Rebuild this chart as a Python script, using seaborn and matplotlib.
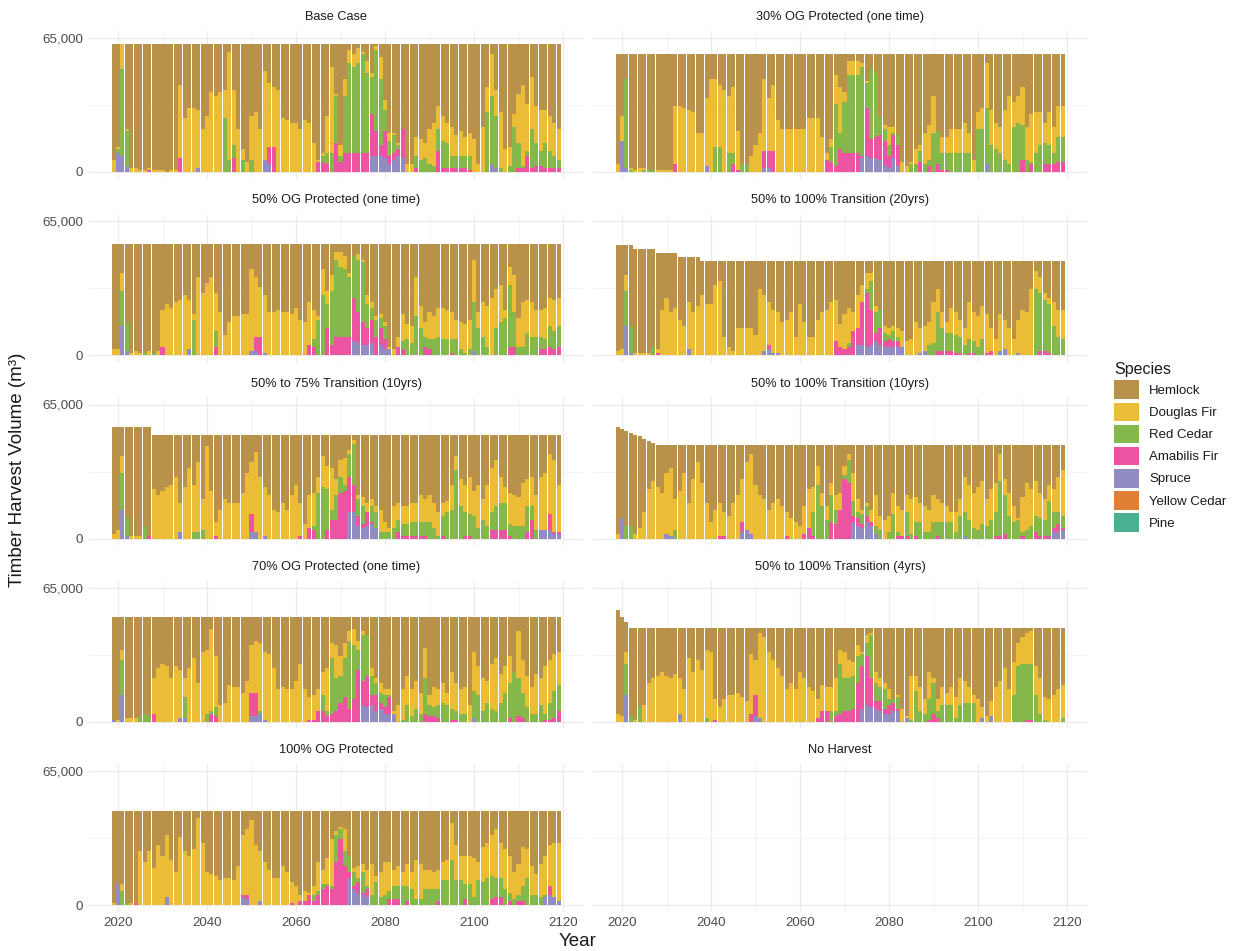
import numpy as np
import pandas as pd
import matplotlib
matplotlib.use("Agg")
import matplotlib.pyplot as plt
from matplotlib.patches import Patch
from matplotlib.ticker import FixedLocator, FixedFormatter
import seaborn as sns

YEARS = list(range(2019, 2120))
SPECIES = ["Hemlock", "Douglas Fir", "Red Cedar", "Amabilis Fir", "Spruce", "Yellow Cedar", "Pine"]
DARK2 = ["#A6761D", "#E6AB02", "#66A61E", "#E7298A", "#7570B3", "#D95F02", "#1B9E77"]

# Each scenario: cumulative upper edge of the stacked layers (thousand m3),
# bottom to top: spruce, +amabilis fir, +red cedar, +douglas fir; then total harvest.

# Base Case
BASE_SP = [0,9,8,3,0,0,0,0,0,0, 0,0,0,0,0,0,0,0,0,2, 0,0,0,0,0,0,0,0,0,0, 0,0,0,0,6,4,0,0,0,0,
           0,0,0,0,0,0,0,0,0,0, 0,0,0,0,0,0,0,0,8,8, 8,7,4,6,8,7,0,0,0,0, 0,0,0,0,0,0,0,0,0,0,
           0,0,0,0,0,4,2,0,0,0, 0,0,0,0,0,0,0,0,0,0, 0]
BASE_AM = [0,9,8,3,0,0,0,0,1,0, 0,0,0,0,0,7,0,0,0,2, 0,0,0,0,0,0,0,7,0,0, 0,0,0,0,6,12,12,0,0,0,
           0,0,0,0,0,0,5,5,4,0, 14,5,9,9,9,9,9,9,28,20, 13,20,8,9,11,21,0,0,2,0, 0,0,0,10,2,2,2,2,2,2,
           1,0,0,0,0,4,2,0,0,0, 0,2,2,8,2,3,3,2,2,2, 2]
BASE_RC = [0,11,50,20,0,0,0,0,1,0, 0,0,0,0,0,7,0,0,0,2, 0,0,0,0,0,26,6,13,0,6, 0,6,0,0,6,12,12,0,0,0,
           0,0,0,0,0,0,5,8,9,9, 37,8,37,53,51,53,57,48,46,59, 45,30,15,18,13,21,0,0,8,6, 7,4,3,21,15,14,8,8,8,8,
           8,0,0,0,29,37,27,2,0,3, 22,14,3,10,21,14,10,14,10,8, 6]
BASE_DF = [6,12,62,21,2,2,1,1,2,1, 1,1,0,1,1,42,26,31,31,30, 21,27,39,37,39,40,58,40,21,11, 5,27,29,21,49,43,41,40,26,25,
           24,24,21,25,24,14,6,9,27,51, 38,13,45,59,57,60,58,54,48,61, 56,35,19,19,14,21,4,4,17,16, 14,21,24,32,27,24,22,18,20,17,
           19,16,4,22,41,57,40,29,11,12, 28,38,42,33,46,32,30,30,27,24, 21]
BASE_TOTAL = [62] * 101

# 30% OG Protected (one time)
OG30_SP = [0,15,2,0,0,0,0,0,0,0, 0,0,0,0,0,0,0,0,0,0, 3,0,0,0,0,0,0,0,0,0, 0,0,0,2,2,0,0,0,0,0,
           0,0,0,0,0,0,0,0,0,0, 0,0,0,0,0,7,8,7,7,6, 3,2,7,3,0,0,0,0,0,0, 0,0,0,0,0,0,0,0,0,0,
           0,0,0,4,0,0,0,0,0,0, 0,0,0,0,0,0,0,0,0,0, 0]
OG30_AM = [0,15,2,0,0,0,0,0,0,0, 0,0,0,4,0,0,0,0,0,0, 3,0,0,0,0,0,4,1,0,0, 0,0,0,10,10,10,0,0,0,0,
           0,0,0,0,0,0,0,6,5,3, 11,9,9,9,9,8,31,16,17,18, 15,8,18,13,0,0,0,0,5,0, 3,0,4,1,1,0,0,0,0,0,
           0,0,0,4,0,0,0,0,0,0, 0,6,0,4,0,0,4,4,4,5, 5]
OG30_RC = [0,15,45,1,0,0,1,1,1,0, 0,0,0,4,0,0,0,0,0,0, 3,0,12,12,0,9,9,1,4,4, 0,0,0,10,10,10,0,0,0,0,
           0,0,0,0,0,0,0,6,12,33, 19,34,47,47,47,51,43,50,48,27, 21,13,19,18,0,0,4,4,10,4, 6,19,20,9,9,9,9,9,9,9,
           0,21,21,31,13,11,9,6,4,22, 24,23,6,5,9,13,14,13,9,17, 17]
OG30_DF = [4,27,45,2,1,2,2,1,1,1, 1,1,1,32,32,31,30,29,19,19, 36,45,45,42,40,37,41,20,4,4, 8,13,19,45,36,42,25,21,21,21,
           21,21,21,26,26,26,17,9,16,47, 41,39,54,54,54,53,44,50,48,27, 23,22,22,18,5,3,5,11,13,19, 23,37,20,17,17,21,21,21,24,19,
           6,29,31,53,30,24,22,30,37,34, 37,41,22,28,29,29,24,29,22,32, 32]
OG30_TOTAL = [57] * 101

# 50% OG Protected (one time)
OG50_SP = [0,0,14,2,0,0,0,0,0,0, 0,0,0,0,0,0,0,3,0,0, 0,0,0,0,0,0,0,0,0,0, 0,2,2,0,1,0,0,0,0,0,
           0,0,0,0,0,0,0,0,0,0, 0,0,0,0,7,6,5,5,6,0, 5,3,3,0,0,0,0,0,0,0, 0,0,0,0,0,0,0,0,0,0,
           0,2,0,0,0,0,0,0,0,0, 0,0,0,0,0,0,0,0,0,0, 0]
OG50_AM = [0,0,14,2,0,0,0,0,0,0, 0,4,0,0,0,0,0,3,0,0, 0,0,0,4,0,0,0,0,0,0, 0,2,9,9,1,0,0,0,0,0,
           0,0,0,0,5,4,0,0,13,5, 9,9,9,9,28,21,16,13,17,9, 13,8,3,0,4,3,0,0,0,0, 4,3,0,0,0,0,1,0,0,0,
           0,2,0,0,0,0,0,0,0,4, 4,0,0,0,0,0,3,3,4,3, 4]
OG50_RC = [0,0,31,15,0,0,0,1,0,1, 0,4,0,0,0,0,0,3,17,0, 0,0,0,12,0,0,0,0,0,0, 0,2,9,9,1,0,0,0,0,0,
           0,0,0,0,5,8,17,29,25,31, 46,43,42,38,48,46,45,25,23,17, 18,14,3,0,4,7,8,6,19,13, 9,8,8,9,8,8,8,8,3,1,
           3,26,13,9,4,0,13,16,18,34, 21,4,4,11,9,9,9,8,14,12, 14]
OG50_DF = [3,3,40,15,1,2,1,1,2,1, 2,22,25,23,26,27,29,27,20,38, 30,35,38,30,21,10,16,19,19,20, 20,42,38,33,29,21,21,22,21,21,
           20,23,17,16,26,22,19,42,31,39, 50,50,48,40,48,49,46,29,26,19, 20,16,4,3,9,20,15,14,38,24, 16,21,19,23,23,22,21,17,16,15,
           17,46,21,26,24,28,32,34,22,43, 39,18,26,27,26,22,22,23,28,27, 28]
OG50_TOTAL = [54] * 101

# 50% to 100% Transition (20yrs)
T20_SP = [0,0,14,1,0,0,0,0,0,0, 0,0,0,0,0,0,3,0,0,0, 0,0,0,0,0,0,0,0,0,0, 0,0,0,2,3,1,1,0,0,0,
          0,0,0,0,0,0,0,0,0,0, 0,0,0,0,5,5,4,5,7,5, 4,4,4,4,4,0,0,0,1,2, 0,0,0,0,0,0,0,0,0,0,
          0,0,0,0,0,0,2,3,0,0, 1,0,0,0,0,0,0,0,0,0, 0]
T20_AM = [0,0,14,1,0,0,0,0,0,1, 0,0,0,0,0,0,3,0,0,0, 0,0,0,0,0,0,0,0,0,0, 0,0,0,2,5,1,1,0,0,0,
          0,0,0,0,0,0,0,0,0,7, 4,3,4,12,13,26,30,22,11,13, 7,8,7,7,4,0,0,0,1,2, 0,0,2,2,2,2,1,1,0,1,
          1,0,0,1,2,0,2,3,0,0, 1,0,0,0,0,2,2,1,0,0, 0]
T20_RC = [0,0,31,14,0,0,0,0,4,1, 0,0,0,0,0,0,3,0,0,0, 0,0,0,0,0,0,0,0,0,0, 0,0,0,2,5,1,1,0,0,0,
          0,0,0,0,0,0,0,0,0,7, 4,3,6,12,13,26,32,36,21,22, 11,10,12,9,4,0,0,0,1,2, 5,6,21,13,11,11,10,9,5,8,
          7,4,8,1,2,0,2,3,0,0, 1,0,0,0,32,30,27,25,14,9, 8]
T20_DF = [2,3,39,14,1,1,1,1,4,3, 22,28,21,23,17,14,26,21,24,29, 25,25,34,36,9,4,2,13,13,13, 13,10,32,29,26,22,21,16,17,21,
          9,25,16,9,9,17,21,22,26,27, 15,20,23,21,29,34,40,40,24,22, 14,13,14,13,12,7,8,16,13,14, 16,26,32,21,16,23,21,17,13,26,
          21,19,24,20,13,8,20,17,13,8, 17,22,21,32,41,38,30,28,26,22, 22]
T20_TOTAL = [53.5] * 4 + [51.5] * 5 + [49.5] * 5 + [47.5] * 5 + [45.5] * 82

# 50% to 75% Transition (10yrs)
T75_SP = [0,0,14,1,0,0,0,0,0,0, 0,0,0,0,0,3,0,0,0,0, 0,0,0,0,0,0,0,0,0,0, 0,3,3,0,1,0,0,0,0,0,
          0,0,0,0,0,0,0,0,0,0, 0,0,0,13,13,6,5,6,7,5, 0,0,0,0,0,0,0,0,0,0, 0,0,0,0,0,0,0,0,0,0,
          0,0,0,0,0,0,0,0,0,0, 0,0,0,0,0,0,4,4,4,2, 2]
T75_AM = [0,0,14,1,0,0,0,0,1,0, 0,0,0,0,0,3,0,0,0,0, 0,0,0,1,0,0,0,0,0,0, 0,12,3,0,1,0,0,0,0,0,
          0,0,1,0,5,4,0,0,4,9, 9,22,23,30,26,11,7,13,8,5, 0,0,0,0,3,1,1,1,1,1, 1,0,0,0,1,0,0,0,0,1,
          1,0,0,0,0,4,4,4,4,1, 0,0,0,3,9,0,4,4,12,3, 3]
T75_RC = [0,0,32,10,0,0,0,6,1,0, 0,0,0,0,0,3,0,0,3,3, 4,0,0,1,0,0,0,0,0,0, 0,12,3,0,1,0,0,0,0,0,
          0,0,1,0,5,6,22,25,24,14, 21,30,26,41,46,19,16,13,16,13, 3,3,3,5,9,7,7,8,8,8, 8,8,5,1,11,13,14,33,16,13,
          12,11,5,9,6,13,16,17,17,7, 6,6,6,16,16,4,4,4,12,3, 3]
T75_DF = [2,4,40,10,1,1,1,6,1,24, 21,23,25,26,30,17,25,34,26,37, 19,45,23,8,14,19,17,17,17,22, 32,37,42,30,25,21,14,13,17,14,
          21,26,17,7,21,22,30,40,35,34, 29,38,39,43,48,21,20,17,19,16, 14,8,5,16,17,16,16,17,17,21, 19,21,17,13,17,18,26,40,29,26,
          30,23,26,19,26,34,38,30,25,22, 21,20,27,29,30,21,30,32,41,38, 26]
T75_TOTAL = [54] * 9 + [50] * 92

# 50% to 100% Transition (10yrs)
T10_SP = [0,10,0,0,0,0,0,0,0,0, 0,2,1,0,0,0,0,0,0,0, 0,0,0,0,0,0,0,0,3,4, 2,0,0,0,0,0,0,0,0,0,
          0,0,0,0,0,0,0,0,0,0, 0,0,0,8,6,5,8,6,2,0, 0,0,0,0,0,0,0,0,0,0, 0,0,0,0,0,0,0,0,1,0,
          0,0,0,0,0,0,0,0,0,0, 0,0,0,0,0,0,0,0,3,3, 4]
T10_AM = [0,10,0,0,0,0,0,0,0,0, 0,2,1,0,0,0,0,0,0,0, 0,0,0,1,1,0,0,0,8,4, 2,0,0,0,0,0,0,0,1,0,
          0,0,2,5,1,0,0,0,8,7, 14,29,27,11,10,7,11,8,2,0, 0,0,0,1,1,1,0,1,0,0, 0,0,1,0,0,0,0,0,1,0,
          0,0,0,0,0,1,1,2,0,0, 0,1,0,0,3,1,1,1,5,7, 5]
T10_RC = [0,10,6,6,0,0,0,0,0,0, 0,2,1,4,0,0,0,0,0,0, 0,0,0,1,1,0,0,0,8,4, 2,0,0,0,0,0,0,0,1,0,
          0,0,2,5,13,26,16,9,21,14, 14,31,38,18,13,12,16,8,6,4, 0,3,12,3,1,13,2,8,8,3, 3,8,8,8,8,8,3,11,13,9,
          5,4,7,6,9,13,28,21,11,8, 9,3,4,6,11,10,9,18,13,13, 11]
T10_DF = [2,10,6,6,2,5,13,24,28,25, 22,32,34,19,23,32,17,29,37,27, 17,8,14,17,13,11,17,21,29,37, 41,26,21,19,14,17,19,16,13,10,
          8,6,16,24,25,35,22,16,27,21, 22,35,41,32,19,14,17,14,21,11, 9,11,22,16,14,21,19,20,17,16, 14,21,19,17,16,13,13,19,30,26,
          22,25,28,19,24,27,41,29,22,16, 10,20,27,24,28,22,19,26,24,30, 33]
T10_TOTAL = [54, 53, 52, 51, 50, 49.5, 48.5, 47.5, 46.5] + [45.5] * 92

# 70% OG Protected (one time)
OG70_SP = [1,0,13,0,0,0,0,0,0,0, 0,0,0,0,0,2,2,0,0,0, 0,0,0,0,0,0,0,0,0,0, 0,3,3,4,1,0,0,0,0,0,
           0,0,0,0,0,0,0,0,0,0, 0,0,0,0,0,0,8,7,8,5, 6,4,4,4,0,0,0,0,0,0, 0,0,0,0,0,0,0,0,0,0,
           0,2,0,0,0,0,0,0,0,0, 0,0,0,0,0,0,0,0,0,0, 0]
OG70_AM = [1,0,13,0,0,0,0,0,0,4, 0,0,0,0,0,2,2,0,0,0, 0,0,4,3,0,0,0,0,0,0, 0,14,14,4,1,0,0,0,0,0,
           0,0,0,0,1,1,5,5,3,4, 5,9,12,6,11,25,20,22,13,13, 9,7,12,4,0,0,0,0,0,0, 4,3,3,2,0,0,1,1,0,0,
           0,2,0,0,0,0,0,0,0,2, 0,3,2,0,0,0,0,1,1,2, 5]
OG70_RC = [1,0,30,0,0,0,3,4,3,4, 0,0,0,0,0,2,12,0,0,0, 0,4,5,7,0,0,0,0,0,0, 0,14,14,5,1,0,0,0,0,0,
           0,0,0,0,1,1,5,13,5,31, 21,22,31,39,37,35,42,42,22,19, 14,13,13,4,0,1,8,3,6,4, 21,8,7,8,9,8,6,5,4,4,
           0,15,13,5,9,6,5,9,14,19, 24,21,14,7,4,4,8,4,9,15, 18]
OG70_DF = [1,1,35,2,2,2,3,4,3,21, 26,28,27,21,27,25,21,26,31,19, 34,35,45,32,8,9,18,17,17,14, 20,37,39,38,34,33,26,16,17,16,
           16,20,28,16,12,13,16,24,26,38, 37,32,38,44,45,39,44,42,26,21, 19,16,16,5,8,16,22,16,20,14, 36,13,17,16,19,14,24,19,16,17,
           8,34,27,21,20,28,31,23,27,32, 23,44,30,22,17,23,21,27,30,33, 34]
OG70_TOTAL = [51] * 101

# 50% to 100% Transition (4yrs)
T4_SP = [0,0,13,0,0,0,0,0,0,0, 0,0,0,0,4,0,0,0,0,0, 0,0,0,0,0,0,0,0,0,0, 0,3,2,0,0,0,0,0,0,0,
         0,0,0,0,0,0,0,0,0,0, 0,0,0,0,0,6,8,7,6,5, 4,4,5,5,0,2,0,0,0,0, 0,0,0,0,0,0,0,0,0,0,
         0,0,2,0,3,0,0,0,0,0, 0,0,0,0,0,0,0,0,0,0, 0]
T4_AM = [0,0,13,0,0,0,0,0,0,0, 0,0,0,0,4,0,0,0,0,0, 0,0,1,0,0,0,0,0,0,0, 4,13,2,0,0,0,0,0,0,0,
         0,0,0,0,0,2,5,5,0,3, 4,5,5,6,19,27,32,21,10,10, 6,8,9,6,0,2,0,0,0,0, 1,4,2,0,0,0,0,0,0,0,
         0,0,2,0,3,0,0,0,0,0, 0,0,1,1,0,0,0,0,0,0, 0]
T4_RC = [0,0,28,3,0,7,0,0,0,0, 0,0,0,0,4,0,0,0,0,0, 2,0,1,0,0,0,0,0,0,0, 4,13,2,0,0,0,0,0,0,0,
         0,0,0,0,0,2,5,5,5,5, 28,21,21,22,32,33,38,42,19,17, 16,11,11,12,0,2,1,15,5,4, 11,19,5,8,8,8,2,8,9,9,
         9,0,2,0,3,0,0,0,0,13, 27,28,28,28,13,4,1,0,0,0, 2]
T4_DF = [4,3,34,3,1,7,8,19,21,22, 24,22,21,23,21,16,31,24,30,25, 35,34,11,7,11,13,13,14,12,10, 33,30,43,41,34,30,26,22,16,19,
         16,24,21,17,15,11,18,17,17,21, 35,34,30,29,37,34,42,43,24,21, 19,16,11,13,6,3,22,22,17,11, 24,21,11,17,14,17,12,21,20,17,
         13,11,7,3,10,17,20,26,16,29, 38,41,43,44,27,21,12,11,13,16, 18]
T4_TOTAL = [54, 51, 48.5] + [45.5] * 98

# 100% OG Protected
OG100_SP = [0,10,0,0,0,0,0,0,0,0, 0,0,4,0,0,0,0,0,0,0, 0,0,0,0,0,0,0,0,0,4, 3,0,0,2,0,0,0,0,0,0,
            0,0,0,0,0,0,0,0,0,0, 0,0,0,13,8,6,5,4,0,0, 0,0,0,0,0,0,0,0,0,0, 0,0,0,0,0,0,0,0,0,0,
            0,0,0,0,0,0,0,0,0,0, 0,0,0,0,0,0,0,4,5,4, 2]
OG100_AM = [0,10,0,0,0,1,0,0,0,0, 0,0,4,0,0,0,0,0,0,0, 0,0,0,0,0,0,0,0,0,5, 5,0,0,2,0,0,0,0,0,0,
            1,0,2,2,5,2,5,8,9,8, 21,32,19,16,9,11,6,8,0,0, 0,0,3,3,3,0,2,0,0,0, 0,0,0,2,0,0,0,0,0,3,
            0,0,0,0,0,3,4,4,0,2, 0,2,2,0,0,0,0,4,9,4, 2]
OG100_RC = [0,10,7,1,0,1,0,0,0,0, 0,0,4,0,0,0,0,0,0,0, 0,0,0,0,0,0,0,0,0,5, 5,0,0,2,0,0,0,0,0,0,
            1,0,2,2,5,5,7,10,10,9, 34,37,26,24,16,13,16,9,5,11, 4,5,7,9,9,9,9,8,3,3, 8,8,8,8,12,12,22,12,12,10,
            10,4,12,11,13,14,13,13,8,6, 3,5,9,13,5,5,4,5,9,3, 2]
OG100_DF = [1,10,10,1,1,1,26,21,26,18, 29,24,34,22,16,33,26,24,27,42, 30,16,15,14,12,13,13,12,19,34, 37,41,29,26,21,17,13,13,19,16,
            11,9,5,7,6,9,21,17,23,32, 36,38,37,24,18,19,20,17,20,14, 16,21,21,17,19,16,20,16,22,20, 17,17,16,17,21,22,40,29,24,24,
            24,23,21,28,30,34,37,30,27,24, 16,20,28,27,19,15,20,24,29,30, 30]
OG100_TOTAL = [45.5] * 101

SCENARIOS = [
    ("Base Case", (BASE_SP, BASE_AM, BASE_RC, BASE_DF, BASE_TOTAL)),
    ("30% OG Protected (one time)", (OG30_SP, OG30_AM, OG30_RC, OG30_DF, OG30_TOTAL)),
    ("50% OG Protected (one time)", (OG50_SP, OG50_AM, OG50_RC, OG50_DF, OG50_TOTAL)),
    ("50% to 100% Transition (20yrs)", (T20_SP, T20_AM, T20_RC, T20_DF, T20_TOTAL)),
    ("50% to 75% Transition (10yrs)", (T75_SP, T75_AM, T75_RC, T75_DF, T75_TOTAL)),
    ("50% to 100% Transition (10yrs)", (T10_SP, T10_AM, T10_RC, T10_DF, T10_TOTAL)),
    ("70% OG Protected (one time)", (OG70_SP, OG70_AM, OG70_RC, OG70_DF, OG70_TOTAL)),
    ("50% to 100% Transition (4yrs)", (T4_SP, T4_AM, T4_RC, T4_DF, T4_TOTAL)),
    ("100% OG Protected", (OG100_SP, OG100_AM, OG100_RC, OG100_DF, OG100_TOTAL)),
    ("No Harvest", None),
]


def species_volumes(layers):
    sp, am, rc, df, tot = (np.asarray(a, dtype=float) for a in layers)
    am = np.maximum(am, sp)
    rc = np.maximum(rc, am)
    df = np.maximum(df, rc)
    tot = np.maximum(tot, df)
    zero = np.zeros_like(sp)
    vols = {"Hemlock": tot - df, "Douglas Fir": df - rc, "Red Cedar": rc - am,
            "Amabilis Fir": am - sp, "Spruce": sp, "Yellow Cedar": zero, "Pine": zero}
    return {k: v * 1000 for k, v in vols.items()}


rows = []
for title, layers in SCENARIOS:
    if layers is None:
        continue
    for sp_name, vals in species_volumes(layers).items():
        for yr, v in zip(YEARS, vals):
            rows.append((title, yr, sp_name, v))
harvest = pd.DataFrame(rows, columns=["Scenario", "Year", "Species", "Volume"])


def lighten(hex_color, alpha=0.8):
    rgb = np.array(matplotlib.colors.to_rgb(hex_color))
    return tuple(alpha * rgb + (1 - alpha))


PALETTE = {s: lighten(c) for s, c in zip(SPECIES, DARK2)}

sns.set_theme(style="white")
plt.rcParams["font.family"] = ["Liberation Sans", "DejaVu Sans"]

W, H = 1244, 951
fig = plt.figure(figsize=(W / 100, H / 100), dpi=100)

PX_PER_YEAR = 4.45
XLIM = (2013.45, 2124.55)
YLIM = (-3250, 68250)
col_left = [118 - (2020 - XLIM[0]) * PX_PER_YEAR, 622 - (2020 - XLIM[0]) * PX_PER_YEAR]
ax_w = (XLIM[1] - XLIM[0]) * PX_PER_YEAR
px_per_unit = 134 / 65000
ax_h = (YLIM[1] - YLIM[0]) * px_per_unit

TEXT_GREY = "#4D4D4D"

for idx, (title, layers) in enumerate(SCENARIOS):
    r, c = divmod(idx, 2)
    y0 = 172 + 183.25 * r
    bottom_px = y0 + 3250 * px_per_unit
    ax = fig.add_axes([col_left[c] / W, 1 - bottom_px / H, ax_w / W, ax_h / H])
    ax.set_axisbelow(True)
    if layers is not None:
        sub = harvest[harvest["Scenario"] == title]
        sns.histplot(data=sub, x="Year", weights="Volume", hue="Species",
                     hue_order=SPECIES, palette=PALETTE, multiple="stack",
                     discrete=True, shrink=0.9, alpha=1, linewidth=0,
                     edgecolor="none", legend=False, ax=ax)
    ax.set_xlim(*XLIM)
    ax.set_ylim(*YLIM)
    ax.xaxis.set_major_locator(FixedLocator([2020, 2040, 2060, 2080, 2100, 2120]))
    ax.xaxis.set_minor_locator(FixedLocator([2030, 2050, 2070, 2090, 2110]))
    ax.yaxis.set_major_locator(FixedLocator([0, 65000]))
    ax.yaxis.set_minor_locator(FixedLocator([32500]))
    ax.yaxis.set_major_formatter(FixedFormatter(["0", "65,000"]))
    ax.grid(which="major", color="#EBEBEB", linewidth=1.0)
    ax.grid(which="minor", color="#F3F3F3", linewidth=0.7)
    for s in ax.spines.values():
        s.set_visible(False)
    ax.tick_params(which="both", length=0, labelsize=9.6, labelcolor=TEXT_GREY, pad=4)
    ax.set_xlabel("")
    ax.set_ylabel("")
    if c == 1:
        ax.tick_params(axis="y", labelleft=False)
    if r < 4:
        ax.tick_params(axis="x", labelbottom=False)
    ax.text(0.5, 1 + (155 - 140.7) / ax_h, title, transform=ax.transAxes,
            ha="center", va="center", fontsize=9.2, color="#1A1A1A")

fig.text(578 / W, 1 - 941 / H, "Year", ha="center", va="center", fontsize=13.5, color="#1A1A1A")
fig.text(18 / W, 1 - 470 / H, "Timber Harvest Volume (m³)", rotation=90,
         ha="center", va="center", fontsize=13.5, color="#1A1A1A")

handles = [Patch(facecolor=PALETTE[s], edgecolor="none", label=s) for s in SPECIES]
leg = fig.legend(handles=handles, loc="upper left", bbox_to_anchor=(1114 / W, 1 - 362 / H),
                 frameon=False, title="Species", fontsize=9.5, title_fontsize=11.5,
                 handlelength=1.9, handleheight=1.8, labelspacing=0.26, handletextpad=0.75,
                 borderpad=0, borderaxespad=0, alignment="left")
for t in leg.get_texts():
    t.set_color("#1A1A1A")
leg.get_title().set_color("#1A1A1A")

fig.savefig("out.png", dpi=100, facecolor="white")
